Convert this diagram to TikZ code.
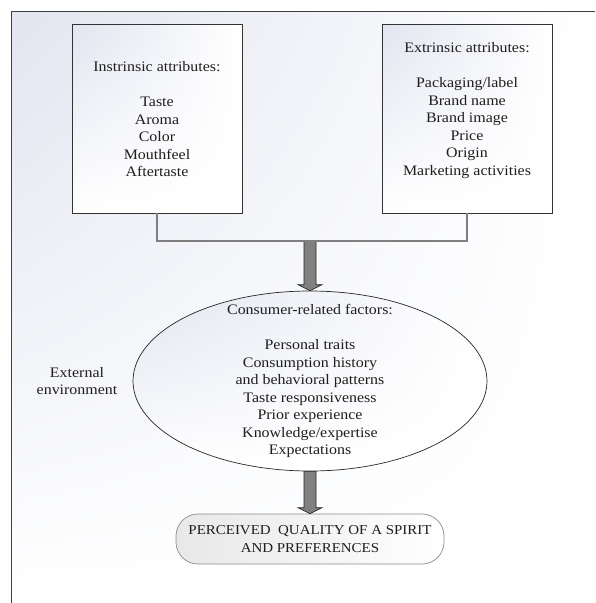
\documentclass[tikz,border=0pt]{standalone}
\usepackage{fontspec}
\setmainfont[FakeStretch=1.1]{Liberation Serif}
\usepackage{tikz}
\usetikzlibrary{positioning,calc,shapes.geometric,shadings}

\definecolor{haze}{HTML}{E2E5F0}
\definecolor{linkgray}{HTML}{7F7F7F}
\definecolor{arrowgray}{HTML}{808080}
\definecolor{textdark}{HTML}{1E1E1E}

% down-pointing block arrow from #1 to #2
\newcommand{\blockdown}[2]{%
  \filldraw[blockarrow] ($(#1)+(-6,0)$) -- ($(#2)+(-6,-6)$) -- ($(#2)+(-12,-6)$)
    -- (#2) -- ($(#2)+(12,-6)$) -- ($(#2)+(6,-6)$) -- ($(#1)+(6,0)$) -- cycle;}

\begin{document}
\begin{tikzpicture}[x=1pt,y=-1pt,
  font=\fontsize{14.5}{17.5}\selectfont,
  attrbox/.style={draw=black!80,line width=0.8pt,minimum width=170pt,minimum height=189pt,
    inner sep=0pt,upper left=haze,upper right=white,lower left=white,lower right=white},
  listtext/.style={align=center,text=textdark,inner sep=0pt},
  consellipse/.style={ellipse,draw=black!85,line width=0.7pt,minimum width=354pt,
    minimum height=180pt,inner sep=0pt,upper left=haze,upper right=white,
    lower left=white,lower right=white},
  outcome/.style={draw=black!45,line width=0.7pt,rounded corners=22pt,minimum width=268pt,
    minimum height=50pt,align=center,text=textdark,inner sep=0pt,
    font=\fontsize{13.6}{18}\selectfont,left color=black!9,right color=white},
  link/.style={draw=linkgray,line width=2.6pt},
  blockarrow/.style={draw=black!85,fill=arrowgray,line width=0.7pt,line join=miter}]

  \useasboundingbox (0,0) rectangle (595,603);
  % background and frame
  \shade[upper left=haze,upper right=white,lower left=white,lower right=white]
    (11,11) rectangle (595,603);
  \draw[black!75,line width=1pt] (11,603) -- (11,11) -- (595,11);

  % attribute boxes
  \node[attrbox] (intr) at (157,118.5) {};
  \node[attrbox] (extr) at (467,118.5) {};
  \node[listtext] (intrlist) at (157,119.5)
    {Instrinsic attributes:\\[17.5pt] Taste\\ Aroma\\ Color\\ Mouthfeel\\ Aftertaste};
  \node[listtext] (extrlist) at (467,110.5)
    {Extrinsic attributes:\\[17.5pt] Packaging/label\\ Brand name\\ Brand image\\ Price\\
     Origin\\ Marketing activities};

  % consumer factors
  \node[consellipse] (cons) at (310,381) {};
  \node[listtext] (conslist) at (cons.center)
    {Consumer-related factors:\\[17.5pt] Personal traits\\ Consumption history\\
     and behavioral patterns\\ Taste responsiveness\\ Prior experience\\
     Knowledge/expertise\\ Expectations};
  \node[listtext] (extenv) at (77,381) {External\\ environment};

  % outcome
  \node[outcome] (quality) at (310,539) {PERCEIVED\ \ QUALITY OF A SPIRIT\\ AND PREFERENCES};

  % connectors
  \coordinate (join) at (310,241);
  \blockdown{join}{cons.north}
  \blockdown{cons.south}{quality.north}
  \draw[link] (intr.south) |- (join) -| (extr.south);
\end{tikzpicture}
\end{document}
